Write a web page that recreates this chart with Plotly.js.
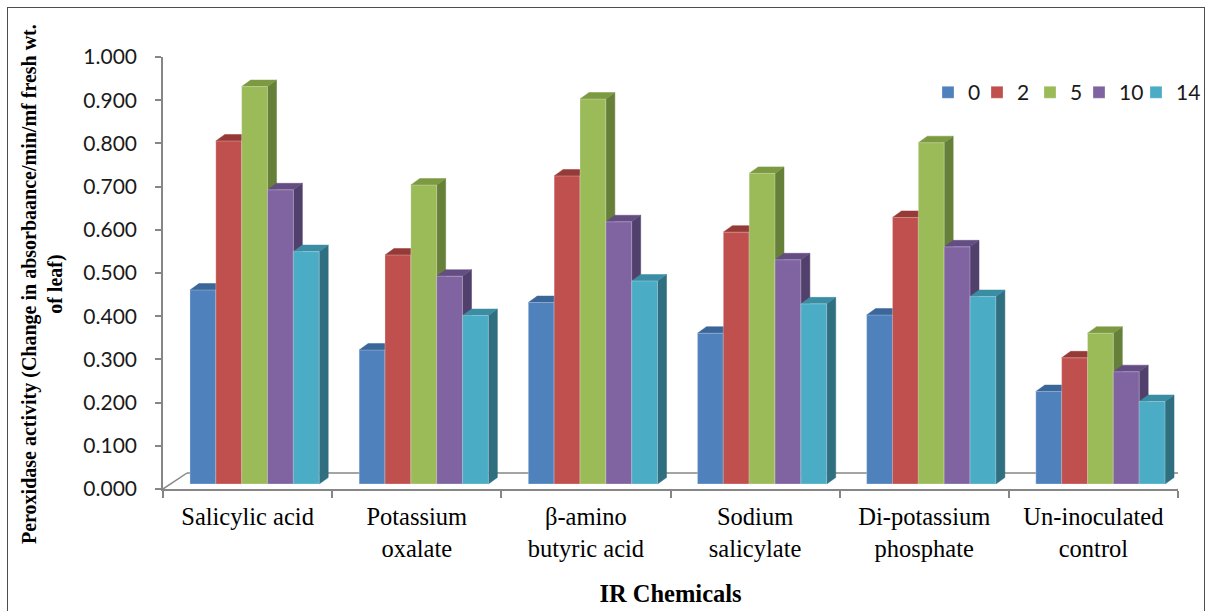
<!DOCTYPE html>
<html>
<head>
<meta charset="utf-8">
<script src="https://cdn.plot.ly/plotly-3.0.1.min.js"></script>
<style>
  html, body { margin: 0; padding: 0; background: #ffffff; }
  #wrap { position: relative; width: 1205px; height: 611px; }
  #chart { width: 1205px; height: 611px; }
  #frame { position: absolute; left: 7px; top: 7px; width: 1196px; height: 610px;
           border: 1px solid #4d4d4d; border-bottom: none; pointer-events: none; }
</style>
</head>
<body>
<div id="wrap"><div id="chart"></div><div id="frame"></div></div>
<script>
// Peroxidase activity per inducer chemical, sampled on days 0, 2, 5, 10 and 14
const categories = ['Salicylic acid', 'Potassium<br>oxalate', 'β-amino<br>butyric acid',
                    'Sodium<br>salicylate', 'Di-potassium<br>phosphate', 'Un-inoculated<br>control'];
const seriesNames = ['0', '2', '5', '10', '14'];
const day0  = [0.449, 0.310, 0.420, 0.349, 0.391, 0.214];
const day2  = [0.794, 0.530, 0.713, 0.583, 0.617, 0.292];
const day5  = [0.920, 0.692, 0.891, 0.719, 0.790, 0.349];
const day10 = [0.681, 0.481, 0.607, 0.519, 0.549, 0.260];
const day14 = [0.538, 0.390, 0.470, 0.417, 0.434, 0.191];
const series = [day0, day2, day5, day10, day14];

// face colours: front, top, side
const frontColors = ['#4F81BD', '#C0504D', '#9BBB59', '#8064A2', '#4BACC6'];
const topColors   = ['#3B6699', '#963A37', '#7C9A42', '#644D82', '#3A8DA3'];
const sideColors  = ['#2F5380', '#7E302E', '#66803A', '#52406C', '#2F6F80'];
// legend entry widths (px) so the key stays compact
const legendWidths = [4, 8, 4, 12, 26];

// plot area in pixels and the pseudo-3D geometry
const M = {l: 163, r: 27, t: 57, b: 122, autoexpand: false};
const W = 1205, H = 611;
const PW = W - M.l - M.r, PH = H - M.t - M.b;
const NCAT = categories.length;
const CAT_PX = PW / NCAT;
const SHIFT_X = 7 / CAT_PX, SHIFT_Y = 5 / PH;     // bars stand a little back on the floor
const DX = 9 / CAT_PX, DY = 6.5 / PH;             // bar depth
const FDX = 24 / CAT_PX, FDY = 16 / PH;           // floor depth
const GROUP = 0.764, BW = GROUP / series.length;

const xIdx = categories.map((_, i) => i);

const sides = [], tops = [], fronts = [];
series.forEach((vals, k) => {
  const off = -GROUP / 2 + k * BW;
  const sx = [], sy = [], tx = [], ty = [];
  vals.forEach((v, i) => {
    const xl = i + off, xr = xl + BW;
    sx.push(xr, xr, xr + DX, xr + DX, xr, null);
    sy.push(0, v, v + DY, DY, 0, null);
    tx.push(xl, xl + DX, xr + DX, xr, xl, null);
    ty.push(v, v + DY, v + DY, v, v, null);
  });
  sides.push({type: 'scatter', mode: 'lines', x: sx, y: sy, xaxis: 'x2', yaxis: 'y2',
    fill: 'toself', fillcolor: sideColors[k], line: {color: sideColors[k], width: 0.5},
    hoverinfo: 'skip', showlegend: false});
  tops.push({type: 'scatter', mode: 'lines', x: tx, y: ty, xaxis: 'x2', yaxis: 'y2',
    fill: 'toself', fillcolor: topColors[k], line: {color: topColors[k], width: 0.5},
    hoverinfo: 'skip', showlegend: false});
  fronts.push({type: 'bar', name: seriesNames[k], x: xIdx, y: vals, xaxis: 'x3', yaxis: 'y3',
    width: BW, offset: off,
    legendwidth: legendWidths[k],
    marker: {color: frontColors[k], line: {color: 'rgba(255,255,255,0.35)', width: 0.8}},
    hovertemplate: '%{y:.3f}<extra>' + seriesNames[k] + '</extra>'});
});

// anchor trace for the visible category axis
const axisTrace = {type: 'scatter', mode: 'markers', x: categories, y: categories.map(() => null),
  xaxis: 'x', yaxis: 'y', showlegend: false, hoverinfo: 'skip'};

const barRangeX = [-0.5 - SHIFT_X, NCAT - 0.5 - SHIFT_X];
const barRangeY = [-SHIFT_Y, 1 - SHIFT_Y];
const axisGrey = '#868686';

const layout = {
  width: W, height: H,
  margin: M,
  paper_bgcolor: '#ffffff', plot_bgcolor: 'rgba(0,0,0,0)',
  barmode: 'overlay',
  showlegend: true,
  legend: {orientation: 'h', x: (942 - 14 - M.l) / PW, xanchor: 'left', y: 0.965, yanchor: 'top',
           font: {family: 'Lato, sans-serif', size: 21, color: '#1a1a1a'},
           bgcolor: 'rgba(0,0,0,0)', traceorder: 'normal'},
  xaxis: {type: 'category', range: [-0.5, NCAT - 0.5], fixedrange: true,
          showline: true, linecolor: axisGrey, linewidth: 1.5,
          ticks: 'outside', tickson: 'boundaries', ticklen: 7, tickcolor: axisGrey, tickwidth: 1.5,
          ticklabelstandoff: 5,
          showgrid: false, zeroline: false,
          tickfont: {family: 'Liberation Serif, serif', size: 24.5, color: '#000000'},
          title: {text: '<b>IR Chemicals</b>', standoff: 24,
                  font: {family: 'Liberation Serif, serif', size: 24.5, color: '#000000'}}},
  yaxis: {range: [0, 1], dtick: 0.1, tick0: 0, tickformat: '.3f', fixedrange: true,
          showline: true, linecolor: axisGrey, linewidth: 1.5,
          ticks: 'outside', ticklen: 6, tickcolor: axisGrey, tickwidth: 1.5,
          ticklabelstandoff: 14,
          showgrid: false, zeroline: false,
          tickfont: {family: 'Lato, sans-serif', size: 21, color: '#1a1a1a'}},
  xaxis2: {overlaying: 'x', range: barRangeX, visible: false, fixedrange: true},
  yaxis2: {overlaying: 'y', range: barRangeY, visible: false, fixedrange: true},
  xaxis3: {overlaying: 'x', range: barRangeX, visible: false, fixedrange: true},
  yaxis3: {overlaying: 'y', range: barRangeY, visible: false, fixedrange: true},
  annotations: [
    // value-axis title, two lines set vertically
    {text: '<b>Peroxidase activity (Change in absorbaance/min/mf fresh wt.<br>of leaf)</b>',
     xref: 'paper', yref: 'paper', x: (42 - M.l) / PW, y: (H - M.b - 284) / PH,
     xanchor: 'center', yanchor: 'middle', textangle: -90, showarrow: false,
     font: {family: 'Liberation Serif, serif', size: 20, color: '#000000'}}
  ],
  shapes: [
    // floor outline: left edge, back edge, right edge
    {type: 'line', xref: 'x', yref: 'y', layer: 'below', x0: -0.5, y0: 0, x1: -0.5 + FDX, y1: FDY,
     line: {color: axisGrey, width: 1.5}},
    {type: 'line', xref: 'x', yref: 'y', layer: 'below', x0: -0.5 + FDX, y0: FDY, x1: NCAT - 0.5 + FDX, y1: FDY,
     line: {color: axisGrey, width: 1.5}},
    {type: 'line', xref: 'x', yref: 'y', layer: 'below', x0: NCAT - 0.5, y0: 0, x1: NCAT - 0.5 + FDX, y1: FDY,
     line: {color: axisGrey, width: 1.5}}
  ]
};

Plotly.newPlot('chart', [axisTrace].concat(sides, tops, fronts), layout,
  {displayModeBar: false, responsive: false});
</script>
</body>
</html>
